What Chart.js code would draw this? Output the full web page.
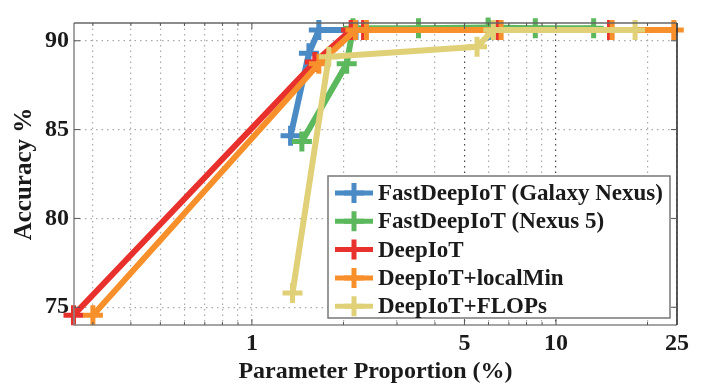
<!DOCTYPE html>
<html lang="en">
<head>
  <meta charset="UTF-8" />
  <title>Accuracy vs Parameter Proportion</title>
  <script src="https://cdn.jsdelivr.net/npm/chart.js"></script>
  <style>
    body { margin: 0; background: #fff; }
    #wrap { width: 714px; height: 390px; }
  </style>
</head>
<body>
  <div id="wrap"><canvas id="accChart" width="714" height="390"></canvas></div>

  <script>
    // data (x = parameter proportion %, y = accuracy %)
    const seriesNames = [
      "FastDeepIoT (Galaxy Nexus)",
      "FastDeepIoT (Nexus 5)",
      "DeepIoT",
      "DeepIoT+localMin",
      "DeepIoT+FLOPs"
    ];
    const galaxyX = [1.34, 1.54, 1.66, 2.2, 6.0];
    const galaxyY = [84.65, 89.3, 90.6, 90.6, 90.6];
    const nexus5X = [1.46, 2.05, 2.15, 3.53, 5.98, 8.55, 13.3];
    const nexus5Y = [84.33, 88.7, 90.7, 90.7, 90.75, 90.7, 90.7];
    const deepiotX = [0.259, 1.61, 2.12, 2.33, 6.45, 15.0];
    const deepiotY = [74.55, 88.8, 90.6, 90.6, 90.6, 90.6];
    const localMinX = [0.30, 1.66, 2.19, 2.38, 6.6, 15.3, 24.4];
    const localMinY = [74.55, 88.7, 90.6, 90.6, 90.6, 90.6, 90.6];
    const flopsX = [1.36, 1.79, 5.5, 6.22, 18.2];
    const flopsY = [75.8, 89.1, 89.66, 90.6, 90.6];

    const xGrid = [0.3, 0.4, 0.5, 0.6, 0.7, 0.8, 0.9, 1, 2, 3, 4, 5, 6, 7, 8, 9, 10, 20, 25];
    const xLabels = [1, 5, 10, 25];
    const yTicks = [75, 80, 85, 90];

    const colors = ["#4a8bc6", "#5cb85c", "#e8302c", "#f7902b", "#e0d178"];
    const serif = '"Liberation Serif", "DejaVu Serif", serif';

    function pts(xs, ys) {
      return xs.map((x, i) => ({ x: x, y: ys[i] }));
    }

    const allX = [galaxyX, nexus5X, deepiotX, localMinX, flopsX];
    const allY = [galaxyY, nexus5Y, deepiotY, localMinY, flopsY];
    const drawOrder = [4, 3, 2, 1, 0]; // yellow ends up on top

    const datasets = seriesNames.map((name, i) => ({
      label: name,
      data: pts(allX[i], allY[i]),
      borderColor: colors[i],
      backgroundColor: colors[i],
      borderWidth: 6,
      pointStyle: "cross",
      pointRadius: 10,
      pointBorderWidth: 5,
      pointBorderColor: colors[i],
      tension: 0,
      clip: false,
      order: drawOrder[i]
    }));

    // box round the plot, small inward ticks, legend inside
    const framePlugin = {
      id: "frame",
      afterDatasetsDraw(chart) {
        const { ctx, chartArea: a, scales } = chart;
        ctx.save();
        ctx.lineWidth = 1.5;
        ctx.strokeStyle = "#888";
        ctx.beginPath();
        ctx.moveTo(a.left, a.top); ctx.lineTo(a.left, a.bottom); ctx.lineTo(a.right, a.bottom);
        ctx.stroke();
        ctx.strokeStyle = "#666";
        ctx.beginPath(); ctx.moveTo(a.left, a.top); ctx.lineTo(a.right, a.top); ctx.stroke();
        ctx.strokeStyle = "#222";
        ctx.beginPath(); ctx.moveTo(a.right, a.top); ctx.lineTo(a.right, a.bottom); ctx.stroke();

        ctx.strokeStyle = "#555";
        ctx.lineWidth = 1;
        ctx.beginPath();
        xGrid.forEach(v => {
          const px = scales.x.getPixelForValue(v);
          const len = xLabels.includes(v) ? 6 : 3;
          ctx.moveTo(px, a.bottom); ctx.lineTo(px, a.bottom - len);
          ctx.moveTo(px, a.top); ctx.lineTo(px, a.top + len);
        });
        yTicks.forEach(v => {
          const py = scales.y.getPixelForValue(v);
          ctx.moveTo(a.left, py); ctx.lineTo(a.left + 6, py);
          ctx.moveTo(a.right, py); ctx.lineTo(a.right - 6, py);
        });
        ctx.stroke();

        // legend
        const lx = 328, ly = 176, lw = 342, lh = 142;
        ctx.fillStyle = "#fff";
        ctx.fillRect(lx, ly, lw, lh);
        ctx.strokeStyle = "#777";
        ctx.lineWidth = 1.5;
        ctx.strokeRect(lx, ly, lw, lh);
        ctx.font = "bold 23px " + serif;
        ctx.textBaseline = "middle";
        chart.data.datasets.forEach((ds, i) => {
          const y = 193 + i * 28.3;
          ctx.strokeStyle = ds.borderColor;
          ctx.lineWidth = 5;
          ctx.beginPath(); ctx.moveTo(335, y); ctx.lineTo(373, y); ctx.stroke();
          ctx.beginPath();
          ctx.moveTo(344, y); ctx.lineTo(364, y);
          ctx.moveTo(354, y - 10); ctx.lineTo(354, y + 10);
          ctx.stroke();
          ctx.fillStyle = "#1a1a1a";
          ctx.fillText(ds.label, 378, y + 1);
        });
        ctx.restore();
      }
    };

    new Chart(document.getElementById("accChart"), {
      type: "line",
      data: { datasets: datasets },
      plugins: [framePlugin],
      options: {
        responsive: false,
        animation: false,
        layout: { padding: { top: 23, right: 37, left: 0, bottom: 0 } },
        plugins: { legend: { display: false }, tooltip: { enabled: false } },
        scales: {
          x: {
            type: "logarithmic",
            min: 0.26,
            max: 25,
            afterBuildTicks: s => { s.ticks = xGrid.map(v => ({ value: v })); },
            afterFit: s => { s.height = 65; },
            grid: {
              color: c => (c.tick && (c.tick.value === 5 || c.tick.value === 10)) ? "#444" : "#aaa",
              lineWidth: 1.2,
              drawTicks: false
            },
            border: { display: false, dash: [1.5, 4] },
            ticks: {
              autoSkip: false,
              maxRotation: 0,
              padding: 4,
              color: "#1a1a1a",
              font: { family: serif, size: 24, weight: "bold" },
              callback: v => xLabels.includes(v) ? String(v) : ""
            },
            title: {
              display: true,
              text: "Parameter Proportion (%)",
              color: "#1a1a1a",
              font: { family: serif, size: 24, weight: "bold" },
              padding: { top: 0, bottom: 4 }
            }
          },
          y: {
            min: 74,
            max: 91,
            afterBuildTicks: s => { s.ticks = yTicks.map(v => ({ value: v })); },
            afterFit: s => { s.width = 74; },
            grid: { color: "#aaa", lineWidth: 1.2, drawTicks: false },
            border: { display: false, dash: [1.5, 4] },
            ticks: {
              padding: 5,
              color: "#1a1a1a",
              font: { family: serif, size: 24, weight: "bold" }
            },
            title: {
              display: true,
              text: "Accuracy %",
              color: "#1a1a1a",
              font: { family: serif, size: 25, weight: "bold" },
              padding: { top: 10, bottom: 0 }
            }
          }
        }
      }
    });
  </script>
</body>
</html>
